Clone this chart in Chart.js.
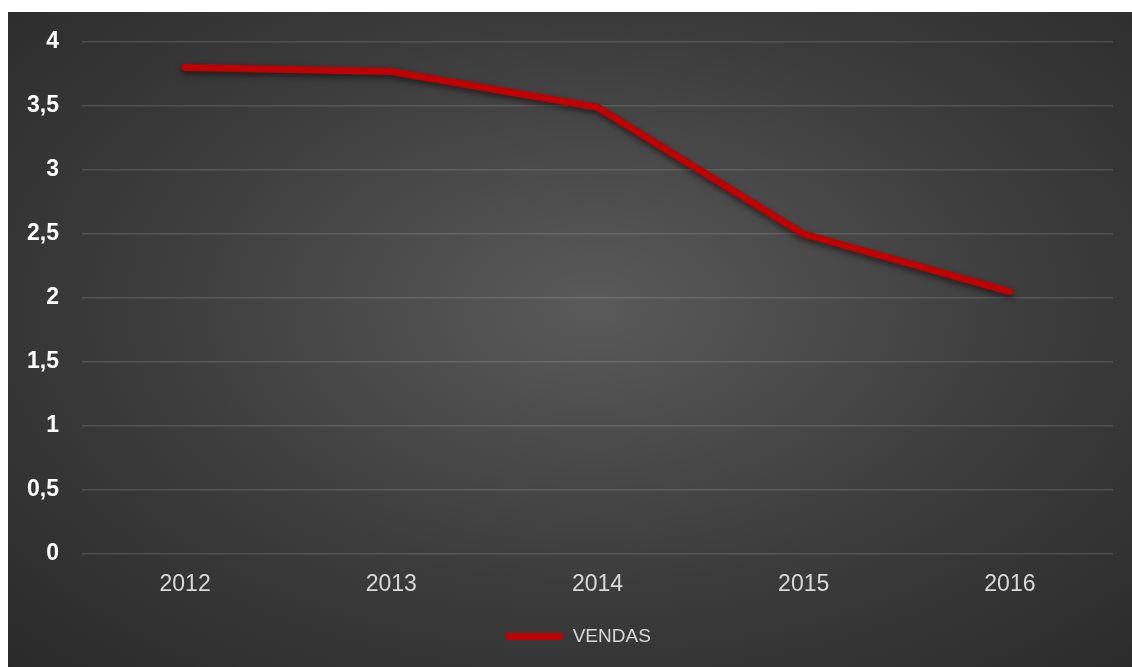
<!DOCTYPE html>
<html>
<head>
<meta charset="utf-8">
<script src="https://cdn.jsdelivr.net/npm/chart.js@4.4.0/dist/chart.umd.min.js"></script>
<style>
  body { margin: 0; background: #fff; }
  #wrap {
    position: absolute; left: 8px; top: 12px; width: 1124px; height: 655px;
    background: radial-gradient(ellipse farthest-corner at 52% 45%, #5a5a5a 0%, #3c3c3c 55%, #2a2a2a 100%);
  }
</style>
</head>
<body>
<div id="wrap"><canvas id="grafico"></canvas></div>
<script>
var anos = ['2012', '2013', '2014', '2015', '2016'];
var vendas = [3.8, 3.77, 3.49, 2.5, 2.05];

// sombra debaixo da linha
var sombra = {
  id: 'sombra',
  beforeDatasetDraw: function(chart) {
    var ctx = chart.ctx;
    ctx.save();
    ctx.shadowColor = 'rgba(0,0,0,0.55)';
    ctx.shadowBlur = 6;
    ctx.shadowOffsetY = 3;
  },
  afterDatasetDraw: function(chart) {
    chart.ctx.restore();
  },
  // legenda um pouco para a direita, como no original
  afterLayout: function(chart) {
    chart.legend.left += 18;
    chart.legend.right += 18;
  }
};

var ctx = document.getElementById('grafico');

var grafico = new Chart(ctx, {
  type: 'line',
  data: {
    labels: anos,
    datasets: [{
      label: 'VENDAS',
      data: vendas,
      borderColor: '#c00000',
      backgroundColor: '#c00000',
      borderWidth: 7,
      borderCapStyle: 'round',
      borderJoinStyle: 'round',
      pointRadius: 0,
      pointStyle: 'line',
      tension: 0
    }]
  },
  options: {
    responsive: true,
    maintainAspectRatio: false,
    animation: false,
    layout: { padding: { top: 30, right: 19, bottom: 11, left: 0 } },
    plugins: {
      tooltip: { enabled: false },
      legend: {
        position: 'bottom',
        labels: {
          usePointStyle: true,
          pointStyleWidth: 57,
          boxWidth: 57,
          boxHeight: 7,
          color: '#d9d9d9',
          font: { family: 'Liberation Sans, Arial', size: 19 },
          padding: 10
        }
      }
    },
    scales: {
      x: {
        offset: true,
        grid: { display: false, drawTicks: false },
        border: { display: false },
        ticks: {
          color: '#d9d9d9',
          font: { family: 'Liberation Sans, Arial', size: 23 },
          padding: 17
        },
        afterFit: function(s) { s.height = 63; s.paddingLeft = 0; s.paddingRight = 0; }
      },
      y: {
        min: 0,
        max: 4,
        ticks: {
          stepSize: 0.5,
          color: '#ffffff',
          font: { family: 'Liberation Sans, Arial', size: 23, weight: 'bold' },
          padding: 23,
          callback: function(v) { return String(v).replace('.', ','); }
        },
        grid: { color: 'rgba(255,255,255,0.13)', lineWidth: 1.5, drawTicks: false },
        border: { display: false },
        afterFit: function(s) { s.width = 74; s.paddingTop = 0; s.paddingBottom = 0; }
      }
    }
  },
  plugins: [sombra]
});
</script>
</body>
</html>
